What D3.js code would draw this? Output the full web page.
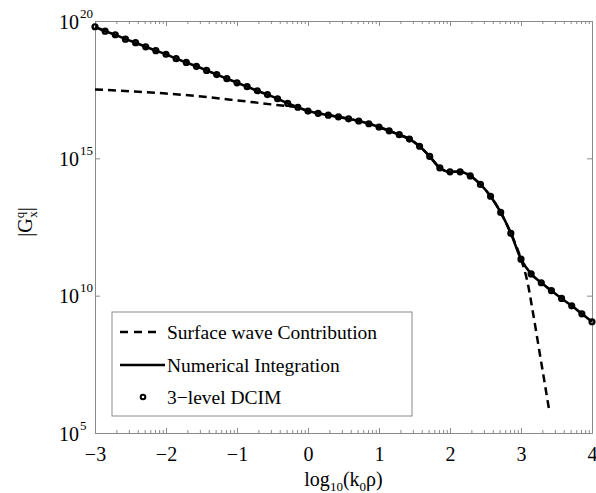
<!DOCTYPE html>
<html>
<head>
<meta charset="utf-8">
<script src="https://cdn.jsdelivr.net/npm/d3@7"></script>
<style>
  html, body { margin: 0; padding: 0; background: #fff; }
  svg { display: block; }
  text { font-family: "Liberation Serif", "Times New Roman", serif; fill: #000; }
</style>
</head>
<body>
<svg id="chart" width="596" height="493"></svg>
<script>
// log10(k0*rho) sample grid (7 samples per decade) and log10 |Gx^q| along it
const xSamples = d3.range(50).map(i => -3 + i / 7);
const numericalLog = [
  19.79, 19.63, 19.50, 19.34, 19.21, 19.06, 18.92, 18.79, 18.63, 18.49,
  18.35, 18.20, 18.05, 17.90, 17.75, 17.61, 17.46, 17.32, 17.17, 17.00,
  16.86, 16.72, 16.64, 16.57, 16.51, 16.44, 16.36, 16.26, 16.14, 16.00,
  15.86, 15.70, 15.44, 15.07, 14.65, 14.51, 14.51, 14.36, 14.05, 13.62,
  13.03, 12.27, 11.33, 10.79, 10.47, 10.18, 9.90, 9.63, 9.34, 9.05
];
const dcimLog = [
  19.79, 19.63, 19.50, 19.34, 19.21, 19.06, 18.92, 18.79, 18.63, 18.49,
  18.35, 18.20, 18.05, 17.90, 17.75, 17.61, 17.46, 17.32, 17.17, 17.00,
  16.86, 16.72, 16.64, 16.57, 16.51, 16.44, 16.36, 16.26, 16.14, 16.00,
  15.86, 15.70, 15.44, 15.07, 14.65, 14.51, 14.51, 14.36, 14.05, 13.62,
  13.03, 12.27, 11.33, 10.79, 10.47, 10.18, 9.90, 9.63, 9.34, 9.05
];
// surface wave contribution (coincides with the integral between ~0 and 3)
const surfaceX = [
  -3, -2.5, -2, -1.5, -1, -0.5, -0.286,
  -0.143, 0, 0.143, 0.286, 0.429, 0.571, 0.714, 0.857, 1, 1.143, 1.286, 1.429,
  1.571, 1.714, 1.857, 2, 2.143, 2.286, 2.429, 2.571, 2.714, 2.857, 3,
  3.1, 3.15, 3.275, 3.4
];
const surfaceLog = [
  17.51, 17.44, 17.36, 17.25, 17.11, 16.96, 16.90,
  16.86, 16.72, 16.64, 16.57, 16.51, 16.44, 16.36, 16.26, 16.14, 16.00, 15.86, 15.70,
  15.44, 15.07, 14.65, 14.51, 14.51, 14.36, 14.05, 13.62, 13.03, 12.27, 11.33,
  10.39, 9.66, 7.73, 5.78
];

const xTicks = [-3, -2, -1, 0, 1, 2, 3, 4];
const xTickLabels = ["\u22123", "\u22122", "\u22121", "0", "1", "2", "3", "4"];
const yTickExps = [5, 10, 15, 20];
const legendLabels = ["Surface wave Contribution", "Numerical Integration", "3\u2212level DCIM"];

const svg = d3.select("#chart");
const mLeft = 95, mRight = 592, mTop = 21, mBottom = 433;
const axisColor = "#8a8a8a";

const x = d3.scaleLinear().domain([-3, 4]).range([mLeft, mRight]);
const y = d3.scaleLog().domain([1e5, 1e20]).range([mBottom, mTop]);

// minor x ticks at log-decade subdivisions
const minorX = [];
xTicks.slice(0, -1).forEach(t => { for (let k = 2; k <= 9; k++) minorX.push(t + Math.log10(k)); });

function styleAxis(g) {
  g.selectAll("path.domain").attr("stroke", axisColor).attr("stroke-width", 1);
  g.selectAll(".tick line").attr("stroke", axisColor).attr("stroke-width", 1);
}

// bottom axis
svg.append("g").attr("transform", `translate(0,${mBottom})`)
  .call(d3.axisBottom(x).tickValues(xTicks).tickSizeInner(-5).tickSizeOuter(0)
    .tickPadding(14).tickFormat((d, i) => xTickLabels[i]))
  .call(styleAxis)
  .call(g => g.selectAll(".tick text").attr("font-size", 20).attr("fill", "#000"));
svg.append("g").attr("transform", `translate(0,${mBottom})`)
  .call(d3.axisBottom(x).tickValues(minorX).tickSizeInner(-3).tickSizeOuter(0).tickFormat(""))
  .call(styleAxis);
// top axis
svg.append("g").attr("transform", `translate(0,${mTop})`)
  .call(d3.axisTop(x).tickValues(xTicks).tickSizeInner(-5).tickSizeOuter(0).tickFormat(""))
  .call(styleAxis);
svg.append("g").attr("transform", `translate(0,${mTop})`)
  .call(d3.axisTop(x).tickValues(minorX).tickSizeInner(-3).tickSizeOuter(0).tickFormat(""))
  .call(styleAxis);
// left axis
const yTickVals = yTickExps.map(e => Math.pow(10, e));
svg.append("g").attr("transform", `translate(${mLeft},0)`)
  .call(d3.axisLeft(y).tickValues(yTickVals).tickSizeInner(-5).tickSizeOuter(0).tickFormat(""))
  .call(styleAxis);
// right axis
svg.append("g").attr("transform", `translate(${mRight},0)`)
  .call(d3.axisRight(y).tickValues(yTickVals).tickSizeInner(-5).tickSizeOuter(0).tickFormat(""))
  .call(styleAxis);

// y tick labels: 10 with superscript exponent
const yLab = svg.append("g");
yTickExps.forEach(e => {
  const yy = y(Math.pow(10, e));
  yLab.append("text").attr("x", 79).attr("y", yy + 7.5).attr("text-anchor", "end")
    .attr("font-size", 20).text("10");
  yLab.append("text").attr("x", 80).attr("y", yy - 3.5).attr("text-anchor", "start")
    .attr("font-size", 13).text(String(e));
});

// x label: log10(k0 rho)
const xl = svg.append("text").attr("x", (mLeft + mRight) / 2).attr("y", 486)
  .attr("text-anchor", "middle").attr("font-size", 20);
xl.append("tspan").text("log");
xl.append("tspan").attr("font-size", 13).attr("dy", 5).text("10");
xl.append("tspan").attr("dy", -5).text("(k");
xl.append("tspan").attr("font-size", 13).attr("dy", 5).text("0");
xl.append("tspan").attr("dy", -5).text("\u03c1)");

// y label: |Gx^q|
const yl = svg.append("text").attr("transform", "translate(32,222) rotate(-90)")
  .attr("text-anchor", "middle").attr("font-size", 20);
yl.append("tspan").text("|G");
yl.append("tspan").attr("font-size", 13).attr("dy", -8).text("q");
yl.append("tspan").attr("font-size", 13).attr("dx", -6).attr("dy", 13).text("x");
yl.append("tspan").attr("dy", -5).text("|");

// curves
const line = d3.line().x(d => x(d[0])).y(d => y(Math.pow(10, d[1]))).curve(d3.curveMonotoneX);
const numericalPts = xSamples.map((v, i) => [v, numericalLog[i]]);
const dcimPts = xSamples.map((v, i) => [v, dcimLog[i]]);
const surfacePts = surfaceX.map((v, i) => [v, surfaceLog[i]]);

svg.append("path").datum(surfacePts)
  .attr("d", line)
  .attr("fill", "none").attr("stroke", "#000").attr("stroke-width", 2.5)
  .attr("stroke-dasharray", "8,5");
svg.append("path").datum(numericalPts)
  .attr("d", line)
  .attr("fill", "none").attr("stroke", "#000").attr("stroke-width", 2.6);
svg.append("g").selectAll("circle").data(dcimPts).join("circle")
  .attr("cx", d => x(d[0])).attr("cy", d => y(Math.pow(10, d[1])))
  .attr("r", 2.4).attr("fill", "none").attr("stroke", "#000").attr("stroke-width", 2.4);

// legend
const lg = svg.append("g");
lg.append("rect").attr("x", 112).attr("y", 312).attr("width", 300).attr("height", 104)
  .attr("fill", "#fff").attr("stroke", axisColor).attr("stroke-width", 1);
const rows = [332, 365, 397];
lg.append("line").attr("x1", 120).attr("x2", 160).attr("y1", rows[0]).attr("y2", rows[0])
  .attr("stroke", "#000").attr("stroke-width", 2.5).attr("stroke-dasharray", "8,6");
lg.append("line").attr("x1", 120).attr("x2", 165).attr("y1", rows[1]).attr("y2", rows[1])
  .attr("stroke", "#000").attr("stroke-width", 2.5);
lg.append("circle").attr("cx", 143).attr("cy", rows[2]).attr("r", 2.3)
  .attr("fill", "none").attr("stroke", "#000").attr("stroke-width", 2);
legendLabels.forEach((t, i) => {
  lg.append("text").attr("x", 167).attr("y", rows[i] + 6.5).attr("font-size", 19.5).text(t);
});
</script>
</body>
</html>
